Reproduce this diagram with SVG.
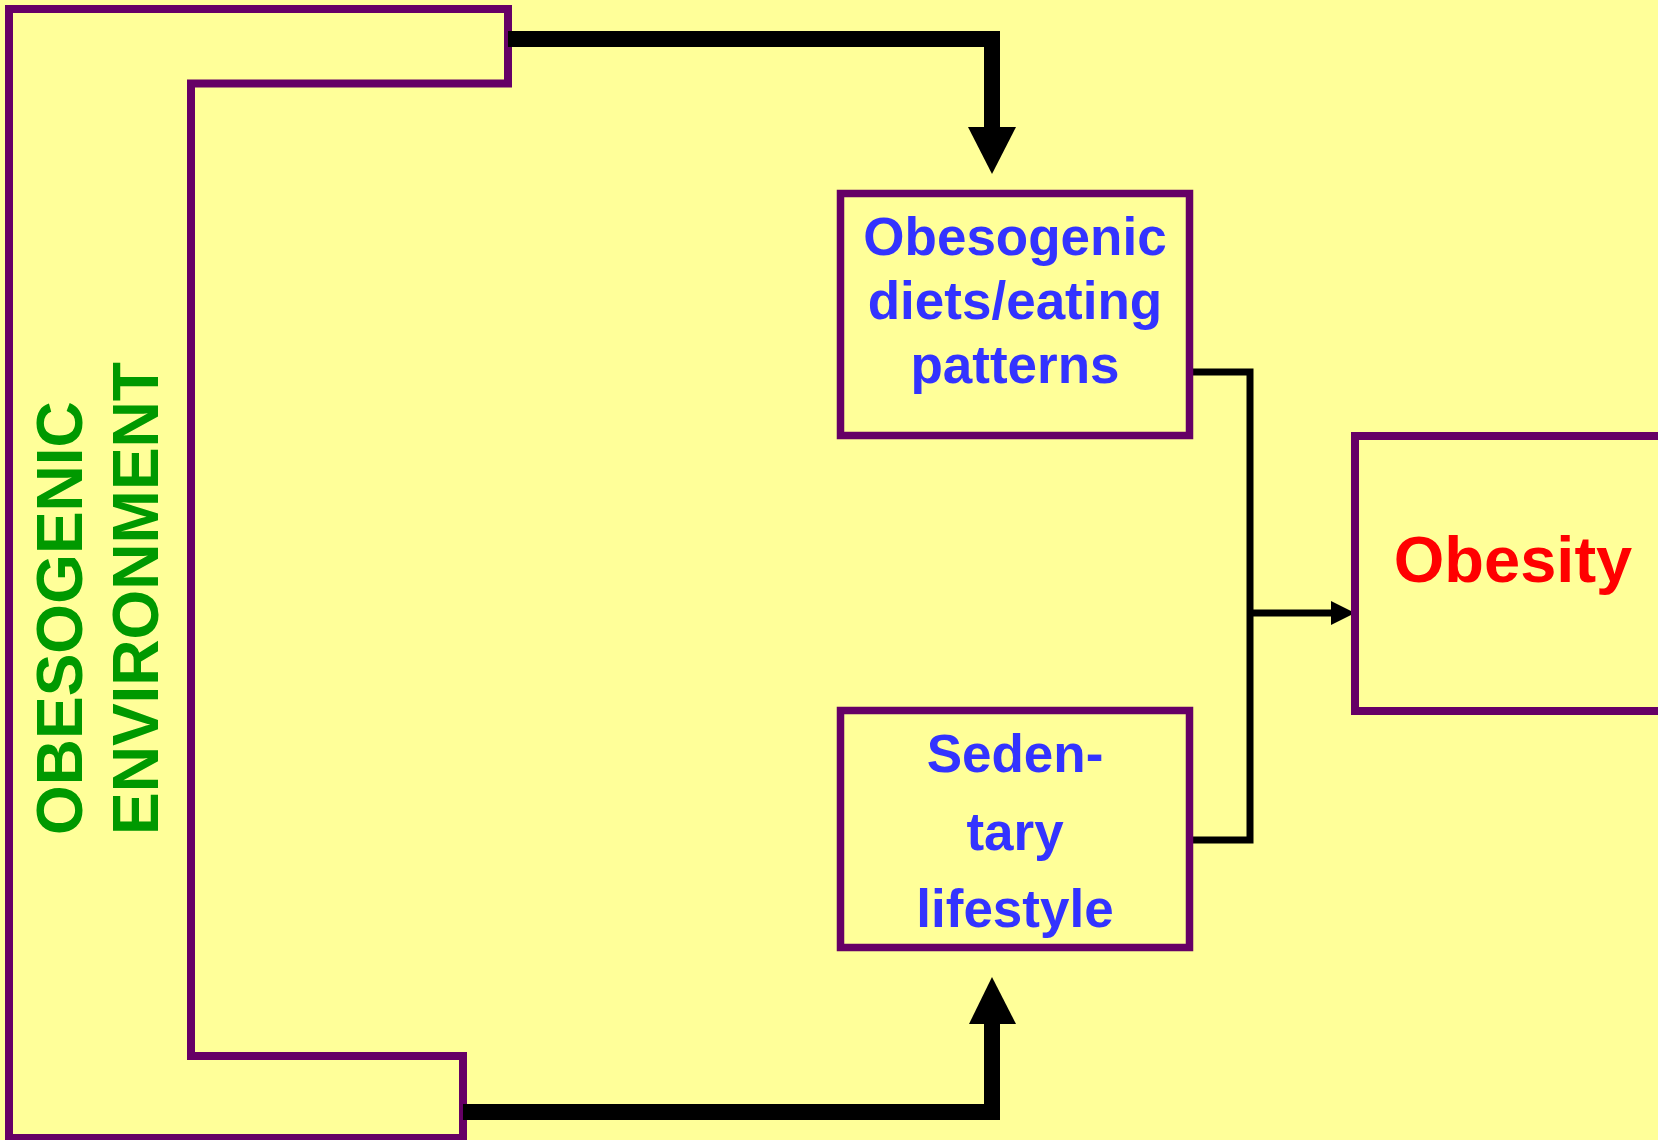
<svg xmlns="http://www.w3.org/2000/svg" width="1658" height="1140" viewBox="0 0 1658 1140">
<defs>
<style>
.box{fill:#FFFF99;stroke:#660066;stroke-width:7.5;}
.env{fill:#FFFF99;stroke:#660066;stroke-width:8;}
.lbl{font-family:"Liberation Sans",Arial,sans-serif;font-weight:bold;}
.blue{fill:#3333FF;font-size:53px;text-anchor:middle;}
.green{fill:#009900;font-size:64px;}
.red{fill:#FF0000;font-size:65px;text-anchor:middle;}
.thick{fill:none;stroke:#000;stroke-width:16;stroke-linejoin:miter;}
.thin{fill:none;stroke:#000;stroke-width:7;stroke-linejoin:miter;}
</style>
</defs>
<rect x="0" y="0" width="1658" height="1140" fill="#FFFF99"/>
<g id="environment">
<path class="env" d="M9,9 L508,9 L508,83.5 L191,83.5 L191,1056 L463,1056 L463,1138 L9,1138 Z"/>
<text class="lbl green" transform="translate(82,835) rotate(-90)">OBESOGENIC</text>
<text class="lbl green" transform="translate(158,835) rotate(-90)">ENVIRONMENT</text>
</g>
<g id="connectors">
<path class="thick" d="M508,39 H992 V128"/>
<polygon points="968,127 1016,127 992,174" fill="#000"/>
<path class="thick" d="M463,1112 H992 V1023"/>
<polygon points="969,1024 1016,1024 992,977" fill="#000"/>
<path class="thin" d="M1190,372 H1250 V840 H1190"/>
<path class="thin" d="M1250,613 H1333"/>
<polygon points="1331,601 1331,625 1355,613" fill="#000"/>
</g>
<g id="diets">
<rect class="box" x="840.5" y="193.5" width="349" height="242"/>
<text class="lbl blue" x="1015" y="255">Obesogenic</text>
<text class="lbl blue" x="1015" y="319">diets/eating</text>
<text class="lbl blue" x="1015" y="383">patterns</text>
</g>
<g id="sedentary">
<rect class="box" x="840.5" y="710.5" width="349" height="237"/>
<text class="lbl blue" x="1015" y="772">Seden-</text>
<text class="lbl blue" x="1015" y="850">tary</text>
<text class="lbl blue" x="1015" y="927">lifestyle</text>
</g>
<g id="obesity">
<rect class="box" x="1355" y="436" width="400" height="275" style="stroke-width:8"/>
<text class="lbl red" x="1513" y="582">Obesity</text>
</g>
</svg>
